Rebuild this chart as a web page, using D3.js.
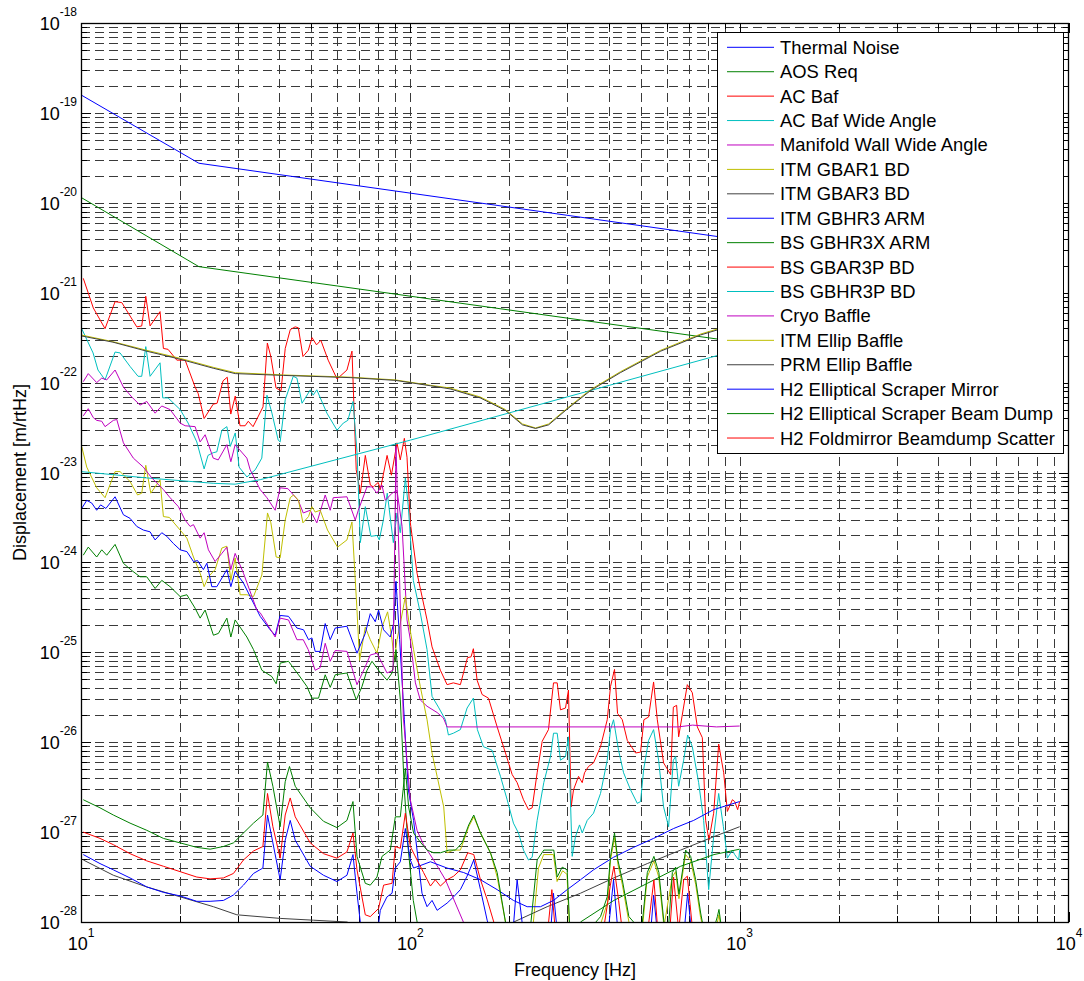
<!DOCTYPE html>
<html>
<head>
<meta charset="utf-8">
<script src="https://cdn.jsdelivr.net/npm/d3@7"></script>
<style>
  body { margin: 0; background: #fff; }
  text { font-family: "Liberation Sans", Arial, sans-serif; }
</style>
</head>
<body>
<div id="chart"></div>
<script>
// every point is [frequency in Hz, log10 of displacement in m/rtHz]
const thermalNoise = [[10,-18.80],[22.8,-19.56],[1000,-20.41]];
const aosReq = [[10,-19.94],[22.8,-20.71],[115,-21.07],[1000,-21.55]];
const acBaf = [[10.16,-20.84],[10.9,-21.17],[11.83,-21.40],[12.69,-21.10],[13.3,-21.11],[14.77,-21.38],[15.29,-21.37],[15.73,-21.04],[16.21,-21.37],[17.38,-21.21],[17.79,-21.62],[18.38,-21.63],[19.54,-21.75],[20.71,-21.75],[22.21,-22.05],[22.68,-22.12],[23.65,-22.40],[25.2,-22.24],[25.9,-22.23],[27.0,-21.98],[27.8,-21.94],[28.5,-22.35],[29.4,-22.15],[30.4,-22.48],[31.5,-22.48],[32.2,-22.43],[33.3,-22.49],[35.7,-22.27],[36.8,-21.56],[37.7,-21.71],[39.1,-22.06],[40.5,-22.09],[41.7,-21.62],[43.2,-21.41],[44.7,-21.38],[45.7,-21.39],[47.2,-21.71],[49.0,-21.64],[50.3,-21.50],[51.9,-21.58],[53.5,-21.53],[56.3,-21.75],[59.9,-21.96],[64.2,-21.86],[66.5,-21.65],[68.5,-22.97],[70.5,-23.23],[73.0,-22.81],[75.6,-23.14],[77.2,-23.16],[79.9,-23.11],[81.1,-23.19],[85.0,-22.81],[87.6,-23.03],[91.1,-22.67],[93.2,-22.86],[95.9,-22.62],[97.7,-22.83],[100,-23.56],[104.8,-24.12],[112.4,-24.64],[116.4,-24.94],[123.4,-25.20],[129.3,-25.36],[135.1,-25.34],[141.9,-25.36],[149.1,-25.06],[152.9,-25.05],[155.4,-24.96],[159.5,-25.31],[165.2,-25.47],[172.7,-25.51],[183.5,-25.83],[194.5,-26.12],[203.8,-26.36],[211,-26.45],[220.6,-26.64],[228.4,-26.75],[234.4,-26.73],[242.7,-26.34],[251.4,-25.99],[262.7,-25.86],[272.1,-25.34],[279.2,-25.34],[285.7,-25.64],[295.9,-25.62],[302.1,-25.42],[307.9,-26.72],[312.9,-26.53],[324.1,-26.38],[332.6,-26.45],[338,-26.34],[347.5,-26.27],[359.9,-26.23],[378,-26.05],[396.2,-25.75],[405.4,-25.38],[416.9,-25.19],[425.8,-25.68],[440.1,-25.75],[455.8,-25.98],[483,-26.12],[500.2,-26.11],[511.9,-25.75],[529,-25.72],[547.8,-25.33],[562.2,-25.75],[587.5,-26.23],[617.2,-26.36],[628.9,-25.61],[643.6,-25.59],[652.7,-25.94],[693.5,-25.36],[718.2,-25.45],[743.8,-25.83],[770.3,-25.95],[788.4,-26.87],[806.7,-27.09],[833.8,-26.79],[863.5,-26.02],[894.3,-26.34],[917.6,-26.77],[950.3,-26.64],[965.8,-26.66],[986.1,-26.75],[1000,-26.66]];
const acBafWideAngle = [[10.05,-21.40],[10.88,-21.67],[11.26,-21.86],[11.83,-21.97],[12.69,-21.66],[13.14,-21.67],[14.09,-21.82],[14.9,-21.93],[15.29,-21.93],[15.73,-21.60],[16.21,-21.93],[17.38,-21.78],[17.71,-22.17],[18.38,-22.17],[20,-22.30],[21.15,-22.45],[22.47,-22.66],[23.65,-22.96],[24.3,-22.81],[25.2,-22.78],[25.85,-22.77],[26.77,-22.53],[27.73,-22.49],[28.4,-22.71],[29.4,-22.56],[30.2,-22.94],[31.9,-23.05],[33.8,-22.97],[35.4,-22.84],[36.7,-22.14],[38,-22.34],[39.7,-22.64],[40.25,-22.66],[41.7,-22.19],[44.1,-21.93],[45.25,-21.95],[46.9,-22.23],[49.7,-22.08],[50.7,-22.14],[52,-22.08],[55.8,-22.34],[59.9,-22.53],[62.6,-22.45],[64.6,-22.42],[67,-22.21],[68.9,-22.78],[70.5,-23.78],[73,-23.38],[75.9,-23.71],[79.2,-23.70],[80.5,-23.75],[82.8,-23.53],[85.1,-23.23],[88.8,-23.78],[91.1,-23.45],[93.2,-23.67],[96.6,-23.06],[98.6,-23.38],[102.1,-24.20],[107.2,-24.56],[112.4,-24.97],[116.4,-25.49],[121.7,-25.61],[127.8,-25.75],[130.5,-25.92],[135.1,-25.90],[141.9,-25.86],[148.7,-25.62],[155.4,-25.51],[159.8,-25.86],[166.7,-26.05],[177.2,-26.09],[187.8,-26.38],[196.8,-26.64],[205.6,-26.90],[213,-27.01],[220.6,-27.20],[228.4,-27.31],[234.4,-27.28],[242.7,-26.87],[254.2,-26.45],[266.4,-26.16],[272.1,-25.90],[279.2,-25.90],[285.7,-26.20],[295.9,-26.16],[302.1,-25.94],[310.1,-27.27],[317.3,-27.05],[326.4,-26.92],[332.6,-27.01],[344.4,-26.87],[359.9,-26.79],[378,-26.57],[396.2,-26.20],[405.4,-25.86],[414,-25.75],[428.8,-26.09],[444.1,-26.34],[466.4,-26.53],[488.8,-26.68],[500.2,-26.66],[510.8,-26.31],[529,-25.98],[547.8,-25.86],[567.4,-26.20],[587.5,-26.72],[608.5,-26.94],[628.9,-26.20],[639.1,-26.16],[652.7,-26.49],[675.9,-26.20],[695,-25.92],[718.2,-26.05],[750.7,-26.45],[777.4,-26.87],[805.1,-27.64],[833.8,-27.05],[863.5,-26.57],[892.4,-26.94],[917.6,-27.29],[950.3,-27.20],[965.8,-27.25],[993.1,-27.31],[1000,-27.20]];
const manifoldWall = [[10.16,-21.99],[10.52,-21.90],[11.16,-22.00],[11.56,-21.95],[11.97,-21.97],[12.69,-21.86],[13.45,-22.05],[14.26,-22.16],[15.11,-22.25],[15.84,-22.21],[16.79,-22.34],[17.59,-22.26],[18.64,-22.30],[20,-22.45],[20.71,-22.48],[22.21,-22.49],[23,-22.66],[23.82,-22.58],[25.2,-22.84],[26.1,-22.86],[27.73,-22.69],[28.51,-22.88],[29.38,-22.69],[31.89,-22.84],[32.64,-22.97],[35,-23.19],[36.68,-23.28],[38.87,-23.42],[40.25,-23.17],[42.5,-23.18],[45.66,-23.31],[47.3,-23.45],[49.66,-23.42],[52,-23.56],[55.15,-23.25],[57.11,-23.42],[58.34,-23.28],[64.2,-23.27],[68.05,-23.53],[69.5,-23.42],[73.86,-23.16],[76.5,-23.16],[79.2,-23.23],[82,-23.14],[83.95,-23.31],[88,-23.23],[91.1,-23.20],[94.4,-23.60],[97.7,-24.64],[100,-24.86],[103.6,-25.34],[107.2,-25.53],[112.4,-25.60],[120.6,-25.67],[126,-25.73],[129.3,-25.83],[200,-25.83],[400,-25.83],[650,-25.83],[720,-25.81],[850,-25.83],[1000,-25.82]];
const itmGbar1 = [[10.05,-22.71],[10.41,-22.94],[11.16,-23.17],[11.83,-23.28],[12.69,-22.99],[13.14,-22.99],[14.09,-23.10],[14.85,-23.25],[15.29,-23.23],[15.73,-22.92],[16.29,-23.23],[17.38,-23.08],[17.79,-23.49],[18.55,-23.50],[20,-23.64],[20.96,-23.73],[21.95,-23.94],[23,-24.12],[23.65,-24.27],[24.37,-24.16],[25.54,-24.08],[26.77,-23.84],[27.73,-23.82],[28.51,-24.20],[29.38,-23.95],[30.43,-24.36],[31.89,-24.36],[33.4,-24.38],[35.42,-24.14],[36.84,-23.45],[37.72,-23.56],[39.14,-23.94],[40.25,-23.95],[41.69,-23.53],[43.18,-23.28],[44.19,-23.25],[45.76,-23.31],[47.2,-23.56],[49.08,-23.49],[50.25,-23.38],[51.42,-23.44],[53.25,-23.42],[56.04,-23.64],[60.12,-23.83],[64.2,-23.75],[66.49,-23.55],[68.87,-24.53],[70.13,-25.09],[72.98,-24.72],[75.57,-24.86],[79.2,-25.01],[82.03,-24.72],[85.31,-24.55],[87.98,-24.86],[89.41,-25.09],[91.11,-24.86],[93.69,-24.64],[96.57,-24.38],[99.52,-24.72],[102.3,-24.97],[107.2,-25.38],[112.4,-25.75],[116.4,-26.12],[120.6,-26.38],[126.3,-26.72],[129.3,-27.23],[135.4,-27.20],[141.9,-27.20],[150.4,-26.94],[155.8,-26.83],[163.3,-27.01],[175.1,-27.23],[183.5,-27.50],[194.5,-28.00],[202,-28.40],[235,-28.10],[245,-27.40],[254,-27.25],[272,-27.25],[279,-27.55],[290,-27.43],[299,-27.47],[304,-28.05],[330,-28.30],[380,-28.00],[397,-27.78],[405,-27.32],[417,-27.06],[427,-27.36],[440,-27.58],[461,-28.00],[500,-28.30],[524,-27.50],[549,-27.32],[568,-27.50],[589,-28.05],[624,-27.50],[639,-27.44],[654,-27.74],[685,-27.25],[710,-27.32],[735,-27.58],[761,-27.95],[780,-28.10],[856,-28.00],[865,-27.92],[876,-28.05],[1000,-28.50]];
const itmGbar3 = [[10.16,-27.31],[12.54,-27.48],[15.84,-27.61],[20,-27.72],[25.24,-27.83],[29.74,-27.92],[40.25,-27.96],[50.8,-27.98],[64.2,-28.00],[81,-28.15],[132,-28.40],[194.5,-28.08],[206.1,-28.00],[260.3,-27.83],[328.6,-27.68],[414.9,-27.51],[524.3,-27.35],[661.9,-27.20],[835.5,-27.05],[1000,-26.94]];
const itmGbhr3 = [[10.05,-23.40],[10.41,-23.31],[10.78,-23.34],[11.16,-23.42],[11.47,-23.36],[11.9,-23.40],[12.69,-23.27],[13.45,-23.47],[14.09,-23.51],[14.77,-23.60],[15.46,-23.64],[16.21,-23.66],[16.79,-23.75],[17.59,-23.67],[18.22,-23.71],[19.08,-23.79],[20,-23.86],[20.96,-23.88],[21.95,-23.99],[22.6,-23.98],[23.53,-24.08],[24.11,-24.01],[24.96,-24.27],[25.85,-24.27],[27.73,-24.08],[28.51,-24.27],[29.38,-24.10],[31.14,-24.23],[32.64,-24.38],[35,-24.60],[37.54,-24.75],[38.87,-24.81],[40.25,-24.59],[42.66,-24.60],[45.25,-24.73],[47.4,-24.75],[49.08,-24.86],[50.25,-24.84],[51.42,-24.99],[53.25,-24.99],[55.15,-24.68],[57.11,-24.86],[59.16,-24.73],[64.2,-24.71],[68.87,-25.01],[72.98,-24.79],[75.57,-24.57],[78.26,-24.66],[80.09,-24.53],[82.94,-24.75],[86.93,-24.83],[88.96,-24.68],[90.47,-24.21],[92.79,-24.86],[95.9,-25.75],[98.6,-26.53],[102.3,-26.87],[108.5,-27.68],[112.4,-27.83],[116.4,-27.76],[120.6,-27.87],[129.3,-27.79],[135.4,-27.72],[141.9,-27.64],[148.7,-27.49],[155.8,-27.31],[163.3,-27.64],[171.1,-27.98],[182,-28.30],[204,-28.20],[211,-27.53],[220,-28.10],[263,-28.40],[272,-27.68],[281,-28.20],[394,-28.30],[414,-27.53],[429,-28.20],[529,-28.40],[548,-27.70],[567,-28.25],[671,-28.30],[695,-27.68],[720,-28.25],[1000,-28.60]];
const bsGbhr3x = [[10.16,-23.92],[10.52,-23.83],[11.16,-23.94],[11.56,-23.86],[11.97,-23.92],[12.69,-23.80],[13.45,-24.01],[14.26,-24.09],[15.11,-24.16],[15.84,-24.16],[16.79,-24.29],[17.59,-24.20],[18.64,-24.27],[20,-24.38],[20.96,-24.36],[22.21,-24.51],[23,-24.62],[23.82,-24.53],[25.24,-24.81],[26.14,-24.79],[27.73,-24.62],[28.51,-24.83],[29.38,-24.64],[31.89,-24.83],[33.4,-24.97],[35.42,-25.20],[37.98,-25.27],[39.14,-25.35],[40.25,-25.12],[42.66,-25.10],[45.76,-25.25],[48.53,-25.38],[50.25,-25.51],[52.63,-25.51],[55.15,-25.25],[57.11,-25.39],[59.16,-25.25],[64.2,-25.23],[68.53,-25.53],[71.32,-25.38],[73.86,-25.20],[76.48,-25.10],[80.09,-25.20],[84.95,-25.31],[87.98,-25.23],[90.47,-24.97],[93.24,-25.53],[95.9,-26.53],[98.6,-27.20],[102.1,-27.76],[107.2,-28.20],[133,-28.40],[248,-28.40],[308,-28.15],[328.6,-28.00],[414.9,-27.76],[524.3,-27.57],[661.9,-27.38],[835.5,-27.25],[1000,-27.19]];
const bsGbar3p = [[163,-28.40],[258,-28.30],[269,-27.64],[277,-28.20],[378,-28.30],[405,-27.59],[415,-27.38],[429,-27.76],[447,-28.30],[518,-28.30],[549,-27.53],[567,-28.20],[608,-28.30],[630,-27.50],[653,-28.10],[676,-27.53],[693.5,-27.49],[720,-28.10],[761,-28.40],[1000,-28.60]];
const bsGbhr3p = [[10,-22.99],[15.8,-23.06],[25.2,-23.12],[29.4,-23.13],[35,-23.08],[100,-22.64],[816,-21.72],[1000,-21.63]];
const cryoBaffle = [[10.16,-22.37],[10.52,-22.29],[10.9,-22.39],[11.16,-22.42],[11.56,-22.43],[11.83,-22.49],[12.54,-22.42],[12.84,-22.41],[13.45,-22.67],[14.42,-22.84],[15.46,-22.94],[16.4,-23.06],[17.79,-23.19],[18.64,-23.28],[19.76,-23.38],[20.71,-23.53],[21.45,-23.60],[21.95,-23.58],[23,-23.73],[23.65,-23.67],[24.37,-23.86],[25.54,-23.99],[26.77,-23.90],[27.73,-23.83],[28.5,-24.08],[29.38,-23.90],[31.14,-24.12],[34.2,-24.53],[35,-24.56],[38.87,-24.83],[40.25,-24.62],[42.66,-24.64],[45.25,-24.86],[47.3,-24.86],[48.98,-24.97],[51.42,-25.20],[53.25,-25.17],[55.15,-24.90],[57.11,-25.10],[59.16,-24.98],[64.2,-24.99],[68.87,-25.36],[72.98,-25.16],[75.57,-25.03],[79.2,-25.01],[82.03,-25.12],[84.95,-25.23],[88.6,-25.20],[90.47,-22.71],[95.2,-25.72],[100,-26.64],[104.8,-26.98],[109.7,-27.14],[117.7,-27.31],[127.8,-27.53],[144.9,-28.00],[158,-28.20]];
const itmEllipBaffle = [[10,-21.47],[12.5,-21.545],[15.8,-21.64],[20,-21.73],[25.2,-21.83],[29.4,-21.89],[41.2,-21.915],[66,-21.94],[90,-21.97],[115,-22.03],[132,-22.06],[163,-22.16],[194.5,-22.30],[219,-22.46],[240,-22.505],[263,-22.46],[296,-22.30],[352,-22.08],[434,-21.88],[576,-21.64],[761,-21.46],[1000,-21.33]];
const prmEllipBaffle = [[10,-21.48],[12.5,-21.55],[15.8,-21.65],[20,-21.74],[25.2,-21.84],[29.4,-21.90],[41.2,-21.92],[66,-21.945],[90,-21.975],[115,-22.035],[132,-22.07],[163,-22.17],[194.5,-22.31],[219,-22.47],[240,-22.51],[263,-22.47],[296,-22.31],[352,-22.09],[434,-21.89],[576,-21.65],[761,-21.47],[1000,-21.34]];
const h2ScraperMirror = [[10.16,-27.25],[11.42,-27.35],[12.54,-27.42],[14.09,-27.51],[15.84,-27.61],[17.79,-27.67],[20,-27.71],[22.47,-27.77],[24.66,-27.77],[27.07,-27.76],[29.03,-27.70],[31.14,-27.59],[33.4,-27.46],[35.67,-27.40],[36.84,-26.81],[38.25,-27.12],[40.25,-27.53],[41.69,-27.09],[43.18,-26.87],[44.72,-27.09],[49.66,-27.38],[54.5,-27.48],[59.87,-27.55],[64.2,-27.48],[66.96,-27.25],[68.87,-27.68],[70.47,-28.00],[73.5,-28.25],[79,-28.20],[81.05,-27.87],[84.95,-27.72],[88,-27.68],[90.03,-27.40],[93.24,-27.33],[96.57,-26.96],[100,-27.31],[102.3,-27.40],[115.1,-27.33],[129.3,-27.40],[145.2,-27.45],[163.3,-27.53],[183.5,-27.64],[205.6,-27.76],[226.3,-27.83],[248.4,-27.83],[272.1,-27.76],[299.4,-27.64],[328.6,-27.53],[359.9,-27.42],[414,-27.28],[476.3,-27.17],[547.8,-27.07],[630.2,-26.96],[724.9,-26.87],[833.8,-26.75],[1000,-26.66]];
const h2ScraperBeamDump = [[10.16,-26.64],[11.42,-26.73],[12.54,-26.81],[14.09,-26.90],[15.84,-26.98],[17.79,-27.07],[20,-27.12],[22.47,-27.17],[24.66,-27.19],[27.07,-27.16],[29.03,-27.12],[31.14,-27.01],[33.4,-26.90],[35.67,-26.81],[36.84,-26.22],[38.25,-26.49],[40.25,-26.94],[41.69,-26.44],[42.96,-26.27],[44.72,-26.49],[49.66,-26.73],[54.5,-26.88],[59.87,-26.95],[64.2,-26.87],[66.96,-26.66],[68.87,-27.27],[72.98,-27.57],[75.57,-27.59],[79.2,-27.50],[82.03,-27.27],[86.93,-27.20],[90.03,-26.83],[93.24,-26.83],[96.57,-26.29],[98.81,-26.72],[102.3,-27.01],[107.2,-27.11],[112.4,-27.20],[117.7,-27.23],[123.4,-27.23],[131,-27.20],[137.1,-27.20],[143.6,-27.12],[150.4,-26.92],[155.8,-26.81],[163.3,-27.01],[175.1,-27.23],[183.5,-27.45],[194.5,-28.00],[204,-28.30],[231,-28.10],[242.7,-27.31],[254.2,-27.20],[272.6,-27.20],[279.2,-27.50],[289.1,-27.39],[299.4,-27.42],[304.3,-28.00],[328.6,-28.20],[378,-27.94],[396.2,-27.72],[405.4,-27.27],[416.9,-27.01],[426.7,-27.31],[440.1,-27.53],[460.9,-27.94],[476.3,-28.00],[500.2,-28.20],[524.3,-27.45],[549,-27.27],[568.5,-27.45],[588.8,-28.00],[608.5,-28.05],[624.5,-27.45],[639.1,-27.39],[654.1,-27.69],[685.4,-27.20],[709.8,-27.27],[735.1,-27.53],[761.3,-27.90],[770.3,-28.00],[816.5,-28.20],[855.6,-27.94],[865.3,-27.86],[875.6,-28.00],[894.3,-28.20],[1000,-28.40]];
const h2Foldmirror = [[10.16,-27.00],[11.42,-27.07],[12.54,-27.14],[14.09,-27.24],[15.84,-27.32],[17.79,-27.38],[20,-27.44],[22.47,-27.50],[24.66,-27.52],[27.07,-27.51],[29.03,-27.46],[31.14,-27.31],[33.4,-27.21],[35.67,-27.16],[36.84,-26.57],[38.25,-26.94],[40.25,-27.29],[41.69,-26.81],[43.18,-26.62],[44.72,-26.83],[49.66,-27.12],[54.5,-27.24],[59.87,-27.29],[64.2,-27.22],[66.96,-27.01],[68.87,-27.42],[72.98,-27.92],[75.57,-27.94],[80.09,-27.85],[82.94,-27.59],[87.98,-27.57],[90.03,-27.16],[93.24,-27.18],[96.57,-26.79],[100,-27.16],[104.8,-27.31],[109.7,-27.45],[115.1,-27.60],[119.1,-27.53],[123.4,-27.60],[129.3,-27.53],[135.4,-27.49],[141.9,-27.42],[149.4,-27.23],[155.8,-27.25],[163.3,-27.53],[171.1,-27.75],[179.2,-28.00],[188,-28.30]];

const seriesNames = ["Thermal Noise", "AOS Req", "AC Baf", "AC Baf Wide Angle", "Manifold Wall Wide Angle",
  "ITM GBAR1 BD", "ITM GBAR3 BD", "ITM GBHR3 ARM", "BS GBHR3X ARM", "BS GBAR3P BD", "BS GBHR3P BD",
  "Cryo Baffle", "ITM Ellip Baffle", "PRM Ellip Baffle", "H2 Elliptical Scraper Mirror",
  "H2 Elliptical Scraper Beam Dump", "H2 Foldmirror Beamdump Scatter"];
const seriesData = [thermalNoise, aosReq, acBaf, acBafWideAngle, manifoldWall, itmGbar1, itmGbar3, itmGbhr3,
  bsGbhr3x, bsGbar3p, bsGbhr3p, cryoBaffle, itmEllipBaffle, prmEllipBaffle, h2ScraperMirror,
  h2ScraperBeamDump, h2Foldmirror];
const seriesColors = ["#0000ff", "#008000", "#ff0000", "#00bfbf", "#bf00bf", "#bfbf00", "#404040",
  "#0000ff", "#008000", "#ff0000", "#00bfbf", "#bf00bf", "#bfbf00", "#404040", "#0000ff", "#008000", "#ff0000"];

const xTickExps = [1, 2, 3, 4];
const yTickExps = [-18, -19, -20, -21, -22, -23, -24, -25, -26, -27, -28];

const width = 1084, height = 981;
const plot = { left: 81, right: 1069, top: 23, bottom: 922 };

const svg = d3.select("#chart").append("svg")
    .attr("width", width)
    .attr("height", height);

const x = d3.scaleLog().domain([10, 1e4]).range([plot.left, plot.right]);
const y = d3.scaleLog().domain([1e-28, 1e-18]).range([plot.bottom, plot.top]);

// grid values: 1..9 times each decade
const xGrid = [], yGrid = [];
for (let k = 1; k < 4; k++) for (let m = 1; m < 10; m++) xGrid.push(m * Math.pow(10, k));
for (let k = -28; k < -18; k++) for (let m = 1; m < 10; m++) yGrid.push(m * Math.pow(10, k));

const grid = svg.append("g")
    .attr("stroke", "#3a3a3a")
    .attr("stroke-width", 1)
    .attr("stroke-dasharray", "9,5")
    .attr("fill", "none");

grid.selectAll("line.v")
    .data(xGrid.filter(d => d > 10))
    .enter().append("line")
    .attr("x1", d => Math.round(x(d)) + 0.5)
    .attr("x2", d => Math.round(x(d)) + 0.5)
    .attr("y1", plot.top)
    .attr("y2", plot.bottom);

grid.selectAll("line.h")
    .data(yGrid.filter(d => d > 1.5e-28))
    .enter().append("line")
    .attr("y1", d => Math.round(y(d)) + 0.5)
    .attr("y2", d => Math.round(y(d)) + 0.5)
    .attr("x1", plot.left)
    .attr("x2", plot.right);

// inner ticks on all sides
const ticks = svg.append("g").attr("stroke", "#000").attr("stroke-width", 1);
xGrid.concat([1e4]).forEach(d => {
    const len = Number.isInteger(Math.log10(d)) ? 10 : 6;
    const px = Math.round(x(d)) + 0.5;
    ticks.append("line").attr("x1", px).attr("x2", px).attr("y1", plot.bottom).attr("y2", plot.bottom - len);
    ticks.append("line").attr("x1", px).attr("x2", px).attr("y1", plot.top).attr("y2", plot.top + len);
});
yGrid.concat([1e-18]).forEach(d => {
    const len = Math.abs(Math.log10(d) - Math.round(Math.log10(d))) < 1e-9 ? 10 : 6;
    const py = Math.round(y(d)) + 0.5;
    ticks.append("line").attr("y1", py).attr("y2", py).attr("x1", plot.left).attr("x2", plot.left + len);
    ticks.append("line").attr("y1", py).attr("y2", py).attr("x1", plot.right).attr("x2", plot.right - len);
});

// series
svg.append("clipPath").attr("id", "clip")
    .append("rect")
    .attr("x", plot.left).attr("y", plot.top)
    .attr("width", plot.right - plot.left).attr("height", plot.bottom - plot.top);

const line = d3.line()
    .x(d => x(d[0]))
    .y(d => y(Math.pow(10, d[1])));

svg.append("g")
    .attr("clip-path", "url(#clip)")
    .selectAll("path")
    .data(seriesData)
    .enter().append("path")
    .attr("fill", "none")
    .attr("stroke", (d, i) => seriesColors[i])
    .attr("stroke-width", 1)
    .attr("d", line);

// axes box
svg.append("rect")
    .attr("x", plot.left + 0.5).attr("y", plot.top + 0.5)
    .attr("width", plot.right - plot.left - 1).attr("height", plot.bottom - plot.top)
    .attr("fill", "none")
    .attr("stroke", "#000")
    .attr("stroke-width", 1.3);

// tick labels
xTickExps.forEach(e => {
    const t = svg.append("text")
        .attr("x", x(Math.pow(10, e)))
        .attr("y", 950)
        .attr("text-anchor", "middle")
        .attr("font-size", "18px")
        .text("10");
    t.append("tspan").attr("dy", -13).attr("font-size", "12px").text(e);
});

yTickExps.forEach(e => {
    const t = svg.append("text")
        .attr("x", 77)
        .attr("y", y(Math.pow(10, e)) + 7)
        .attr("text-anchor", "end")
        .attr("font-size", "18px")
        .text("10");
    t.append("tspan").attr("dy", -14).attr("font-size", "12px").text(e);
});

// axis titles
svg.append("text")
    .attr("x", (plot.left + plot.right) / 2)
    .attr("y", 976)
    .attr("text-anchor", "middle")
    .attr("font-size", "18px")
    .text("Frequency [Hz]");

svg.append("text")
    .attr("transform", "rotate(-90)")
    .attr("x", -(plot.top + plot.bottom) / 2)
    .attr("y", 26)
    .attr("text-anchor", "middle")
    .attr("font-size", "18px")
    .text("Displacement [m/rtHz]");

// legend
const legend = svg.append("g");
legend.append("rect")
    .attr("x", 717.5).attr("y", 32.5)
    .attr("width", 346).attr("height", 421)
    .attr("fill", "#fff")
    .attr("stroke", "#000")
    .attr("stroke-width", 1);

seriesNames.forEach((name, i) => {
    const ly = 47.3 + i * 24.42;
    legend.append("line")
        .attr("x1", 727).attr("x2", 774)
        .attr("y1", ly).attr("y2", ly)
        .attr("stroke", seriesColors[i])
        .attr("stroke-width", 1);
    legend.append("text")
        .attr("x", 780)
        .attr("y", ly + 6.5)
        .attr("font-size", "18.4px")
        .text(name);
});
</script>
</body>
</html>
